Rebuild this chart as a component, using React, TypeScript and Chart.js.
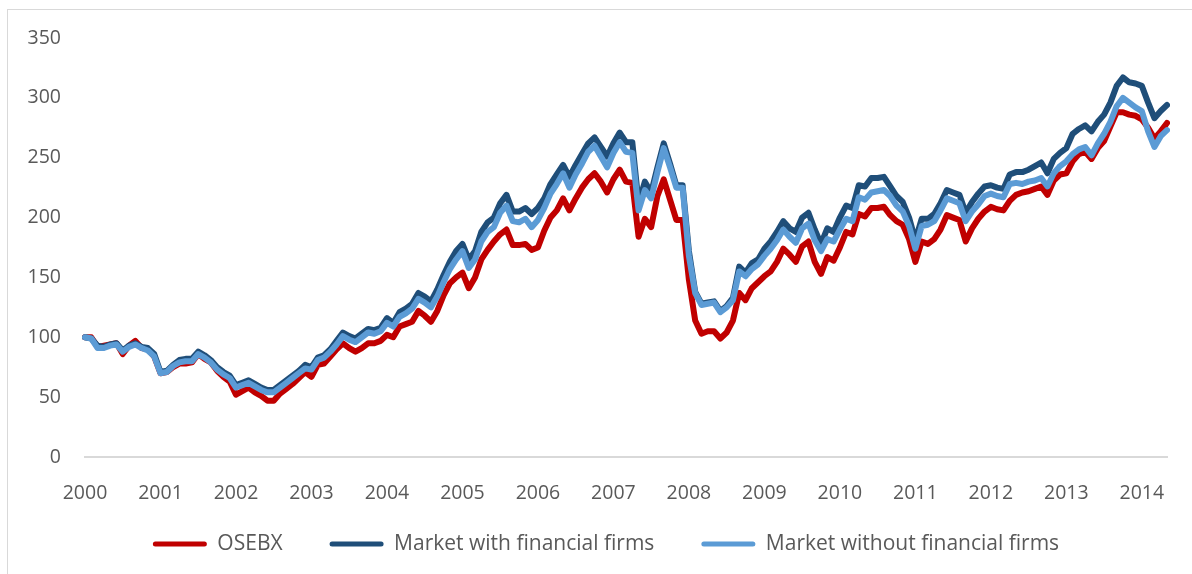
import React, { useEffect, useRef } from "react";
import { Chart, registerables } from "chart.js";

Chart.register(...registerables);

const yearLabels = ["2000","2001","2002","2003","2004","2005","2006","2007","2008","2009","2010","2011","2012","2013","2014"];
const monthsInLastYear = 5;

const seriesNames = ["OSEBX", "Market with financial firms", "Market without financial firms"];
const seriesColors = ["#C00000", "#1F4E79", "#5B9BD5"];

const osebx = [
  100, 100, 92, 93, 94, 95, 86, 93, 97, 91, 90, 84,
  70, 71, 75, 78, 78, 79, 86, 82, 79, 72, 67, 63,
  52, 55, 58, 54, 51, 47, 47, 53, 57, 61, 66, 71,
  67, 77, 78, 84, 90, 95, 91, 88, 91, 95, 95, 97,
  102, 100, 109, 111, 113, 122, 118, 113, 122, 135, 145, 150,
  154, 141, 150, 165, 173, 180, 186, 190, 177, 177, 178, 173,
  175, 189, 200, 206, 216, 206, 216, 225, 232, 237, 230, 221,
  232, 240, 230, 229, 184, 199, 192, 218, 232, 215, 198, 198,
  148, 114, 103, 105, 105, 99, 104, 114, 137, 131, 141, 146,
  151, 155, 163, 174, 169, 163, 176, 180, 163, 153, 167, 164,
  175, 188, 186, 203, 201, 208, 208, 209, 202, 197, 194, 182,
  163, 180, 178, 182, 190, 202, 200, 198, 180, 191, 199, 205,
  209, 207, 206, 214, 219, 221, 222, 224, 226, 219, 231, 236,
  237, 247, 253, 255, 249, 258, 264, 276, 288, 288, 286, 285,
  282, 275, 266, 272, 279,
];

const marketWithFinancials = [
  100, 99, 93, 92, 94, 95, 89, 93, 95, 92, 91, 86,
  71, 72, 77, 81, 82, 82, 88, 85, 81, 75, 71, 68,
  60, 62, 64, 61, 58, 56, 56, 60, 64, 68, 72, 77,
  75, 83, 85, 90, 97, 104, 101, 99, 103, 107, 106, 108,
  116, 112, 121, 124, 128, 137, 134, 130, 140, 152, 163, 172,
  178, 165, 172, 188, 196, 200, 212, 219, 205, 205, 208, 203,
  208, 216, 228, 236, 244, 234, 244, 253, 262, 267, 259, 251,
  262, 271, 263, 263, 212, 230, 221, 242, 262, 245, 227, 227,
  172, 138, 128, 129, 130, 122, 126, 133, 159, 154, 162, 165,
  174, 180, 188, 197, 191, 188, 200, 204, 190, 178, 191, 188,
  200, 210, 208, 227, 226, 233, 233, 234, 226, 218, 213, 200,
  181, 199, 199, 203, 212, 223, 221, 219, 204, 213, 220, 226,
  227, 225, 224, 236, 238, 238, 240, 243, 246, 237, 249, 254,
  258, 270, 274, 277, 272, 280, 286, 296, 310, 317, 313, 312,
  310, 296, 283, 289, 294,
];

const marketWithoutFinancials = [
  100, 99, 91, 91, 93, 94, 88, 92, 94, 91, 89, 84,
  70, 71, 76, 79, 80, 80, 86, 83, 79, 73, 69, 66,
  58, 60, 62, 59, 56, 54, 54, 58, 62, 66, 70, 74,
  73, 81, 83, 88, 94, 101, 98, 96, 100, 104, 103, 105,
  112, 109, 117, 120, 124, 132, 129, 125, 134, 146, 157, 165,
  172, 158, 165, 180, 188, 192, 204, 210, 197, 196, 199, 192,
  198, 208, 220, 228, 237, 225, 236, 245, 255, 260, 251, 242,
  254, 263, 255, 254, 206, 223, 216, 238, 258, 242, 225, 225,
  168, 137, 127, 128, 129, 121, 125, 131, 155, 151, 157, 161,
  168, 174, 181, 190, 184, 179, 191, 195, 181, 172, 182, 180,
  190, 199, 197, 217, 215, 221, 222, 223, 218, 210, 205, 193,
  174, 193, 194, 197, 206, 216, 214, 212, 197, 205, 211, 218,
  220, 218, 217, 228, 229, 228, 230, 231, 233, 226, 237, 243,
  247, 253, 257, 259, 252, 262, 270, 280, 293, 300, 296, 292,
  289, 272, 259, 268, 273,
];

const yTicks = [0, 50, 100, 150, 200, 250, 300, 350];

const monthLabels: string[] = [];
yearLabels.forEach((y, yi) => {
  const n = yi === yearLabels.length - 1 ? monthsInLastYear : 12;
  for (let m = 1; m <= n; m++) monthLabels.push(`${y}-${String(m).padStart(2, "0")}`);
});

const FONT = "'Open Sans', 'DejaVu Sans', sans-serif";
const TEXT = "#595959";
const LEGEND_GAP = "\u2002\u2002";

export default function App() {
  const ref = useRef<HTMLCanvasElement | null>(null);

  useEffect(() => {
    document.body.style.margin = "0";
    document.body.style.overflow = "hidden";
    if (!ref.current) return;
    const allSeries = [osebx, marketWithFinancials, marketWithoutFinancials];
    const chart = new Chart(ref.current, {
      type: "line",
      data: {
        labels: monthLabels,
        datasets: allSeries.map((data, i) => ({
          label: seriesNames[i],
          data,
          borderColor: seriesColors[i],
          backgroundColor: seriesColors[i],
          borderWidth: 6,
          pointRadius: 0,
          tension: 0,
          borderJoinStyle: "round" as const,
          borderCapStyle: "round" as const,
          order: 3 - i,
          yAxisID: "y",
        })),
      },
      options: {
        animation: false,
        responsive: false,
        maintainAspectRatio: false,
        layout: { padding: { top: 38, right: 2, left: 22, bottom: 9.5 } },
        plugins: {
          tooltip: { enabled: false },
          legend: {
            position: "bottom",
            labels: {
              color: TEXT,
              font: { family: FONT, size: 21 },
              boxWidth: 54,
              boxHeight: 5,
              padding: 26,
              useBorderRadius: true,
              borderRadius: 2.5,
              sort: (a: any, b: any) => a.datasetIndex - b.datasetIndex,
              generateLabels: (c: any) =>
                c.data.datasets.map((d: any, i: number, arr: any[]) => ({
                  text: i < arr.length - 1 ? d.label + LEGEND_GAP : d.label,
                  fillStyle: d.borderColor,
                  strokeStyle: d.borderColor,
                  lineWidth: 0,
                  fontColor: TEXT,
                  hidden: false,
                  datasetIndex: i,
                  borderRadius: 2.5,
                })),
            },
          },
        },
        scales: {
          x: {
            type: "category",
            offset: false,
            grid: { display: false, drawTicks: false },
            border: { display: true, color: "#d9d9d9", width: 2 },
            afterFit: (s: any) => {
              s.height = 50.5;
            },
            ticks: {
              autoSkip: false,
              maxRotation: 0,
              color: TEXT,
              font: { family: FONT, size: 19.5 },
              padding: 25,
              callback: (_v: any, idx: number) => (idx % 12 === 0 ? yearLabels[idx / 12] : null),
            },
          },
          y: {
            position: "left",
            min: 0,
            max: 350,
            afterBuildTicks: (s: any) => {
              s.ticks = yTicks.map((v) => ({ value: v }));
            },
            afterFit: (s: any) => {
              s.width = 63;
            },
            grid: { display: false, drawTicks: false },
            border: { display: false },
            ticks: {
              color: TEXT,
              font: { family: FONT, size: 19.5 },
              padding: 24,
            },
          },
          yRightSpacer: {
            position: "right",
            display: true,
            min: 0,
            max: 350,
            grid: { display: false, drawTicks: false },
            border: { display: false },
            ticks: { display: false },
            afterFit: (s: any) => {
              s.width = 23;
            },
          },
        },
      },
    });
    return () => chart.destroy();
  }, []);

  return (
    <div style={{ position: "fixed", left: 0, top: 0, width: 1192, height: 574, background: "#fff", overflow: "hidden" }}>
      <div style={{ position: "absolute", left: 7, top: 9, width: 1300, height: 700, border: "1.5px solid #d9d9d9", boxSizing: "border-box" }} />
      <canvas ref={ref} width={1192} height={574} style={{ position: "absolute", left: 0, top: 0 }} />
    </div>
  );
}
